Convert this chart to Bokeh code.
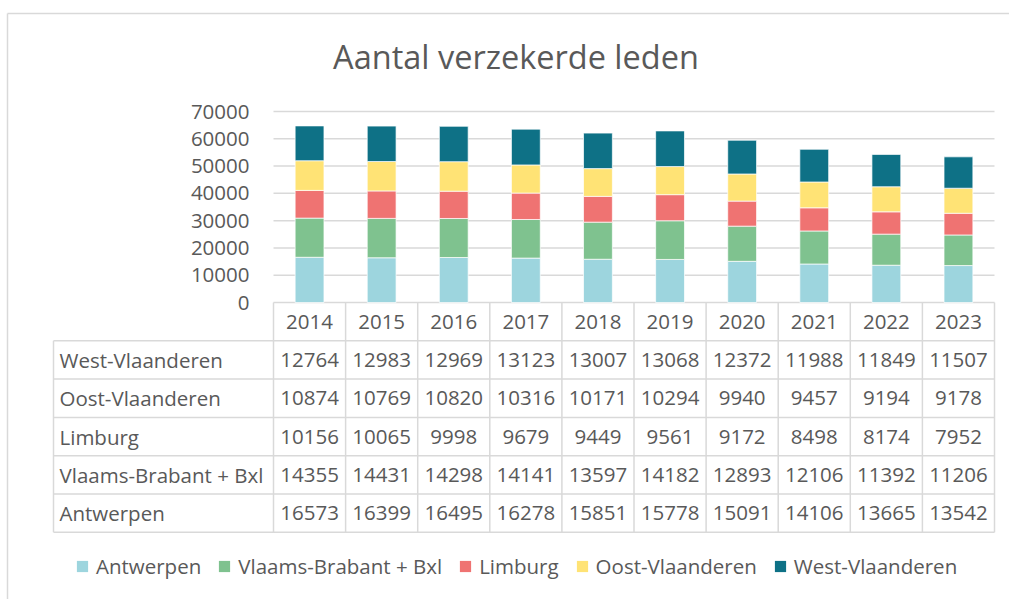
from bokeh.plotting import figure
from bokeh.models import Range1d, ColumnDataSource, Legend, LegendItem
from bokeh.embed import file_html
from bokeh.resources import INLINE
from bokeh.core.properties import value

# ---------------- data ----------------
years = ["2014", "2015", "2016", "2017", "2018", "2019", "2020", "2021", "2022", "2023"]
series = ["Antwerpen", "Vlaams-Brabant + Bxl", "Limburg", "Oost-Vlaanderen", "West-Vlaanderen"]
antwerpen = [16573, 16399, 16495, 16278, 15851, 15778, 15091, 14106, 13665, 13542]
vlaams_brabant_bxl = [14355, 14431, 14298, 14141, 13597, 14182, 12893, 12106, 11392, 11206]
limburg = [10156, 10065, 9998, 9679, 9449, 9561, 9172, 8498, 8174, 7952]
oost_vlaanderen = [10874, 10769, 10820, 10316, 10171, 10294, 9940, 9457, 9194, 9178]
west_vlaanderen = [12764, 12983, 12969, 13123, 13007, 13068, 12372, 11988, 11849, 11507]
y_ticks = [0, 10000, 20000, 30000, 40000, 50000, 60000, 70000]
title_text = "Aantal verzekerde leden"

# ---------------- style / layout ----------------
colors = ["#9dd5de", "#7fc28f", "#ef7372", "#ffe375", "#0e7186"]
FONT = "Open Sans"
TXT = "#595959"
GRID = "#d9d9d9"
FS = "20.5px"

W, H = 1009, 599
PX0 = 273            # pixel x of the left edge of the plot area
PY0 = 302            # pixel y of the value 0
COL = 72.1           # pixels per category
K = 70000 / 191      # value units per pixel (vertical)
ROW = 38.3 * K       # table row height in value units

xr = Range1d(-PX0 / COL, (W - PX0) / COL)
yr = Range1d(-(H - PY0) * K, PY0 * K)

p = figure(width=W, height=H, x_range=xr, y_range=yr, title=None,
           output_backend="svg", toolbar_location=None,
           x_axis_location=None, y_axis_location=None,
           min_border_left=0, min_border_right=0, min_border_top=0, min_border_bottom=0)
p.grid.visible = False
p.outline_line_color = None
p.background_fill_color = "white"

ncols = len(years)
nrows = len(series)
xc = [i + 0.5 for i in range(ncols)]

# chart border (top and left)
bx = xr.start + 7 / COL
by = yr.end - 13 * K
p.segment(x0=[bx, bx], y0=[by, yr.start], x1=[xr.end, bx], y1=[by, by],
          line_color=GRID, line_width=1.5)

# title
p.text(x=[xr.start + 515.5 / COL], y=[yr.end - 55.7 * K], text=[title_text],
       text_font=value(FONT), text_font_size=value("32.5px"), text_color=TXT,
       text_align="center", text_baseline="middle")

# gridlines and y tick labels
p.segment(x0=[0] * len(y_ticks), y0=y_ticks, x1=[ncols] * len(y_ticks), y1=y_ticks,
          line_color=GRID, line_width=1.5)
p.text(x=[0] * len(y_ticks), y=y_ticks, text=[str(t) for t in y_ticks], x_offset=-24,
       text_font=value(FONT), text_font_size=value(FS), text_color=TXT,
       text_align="right", text_baseline="middle")

# stacked bars
keys = ["s0", "s1", "s2", "s3", "s4"]
values = [antwerpen, vlaams_brabant_bxl, limburg, oost_vlaanderen, west_vlaanderen]
data = {"xc": xc}
for k, v in zip(keys, values):
    data[k] = v
src = ColumnDataSource(data)
p.vbar_stack(keys, x="xc", width=0.4, color=colors, source=src,
             line_color="white", line_width=1, line_alpha=0.7)

# ---------------- data table ----------------
label_left = -220 / COL
hx0, hx1, hy = [], [], []
for j in range(1, nrows + 2):
    hx0.append(label_left)
    hx1.append(ncols)
    hy.append(-j * ROW)
p.segment(x0=hx0, y0=hy, x1=hx1, y1=hy, line_color=GRID, line_width=1.5)
vx, vy0, vy1 = [label_left], [-ROW], [-(nrows + 1) * ROW]
for c in range(ncols + 1):
    vx.append(c)
    vy0.append(0)
    vy1.append(-(nrows + 1) * ROW)
p.segment(x0=vx, y0=vy0, x1=vx, y1=vy1, line_color=GRID, line_width=1.5)

# header years
p.text(x=xc, y=[-0.5 * ROW] * ncols, text=years,
       text_font=value(FONT), text_font_size=value(FS), text_color=TXT,
       text_align="center", text_baseline="middle")

tx, ty, tt = [], [], []
lx, ly, lt = [], [], []
for si, (name, vals) in enumerate(zip(series, values)):
    j = nrows - si            # West-Vlaanderen on top
    row_y = -(j + 0.5) * ROW
    lx.append(label_left)
    ly.append(row_y)
    lt.append(name)
    for i, v in enumerate(vals):
        tx.append(xc[i])
        ty.append(row_y)
        tt.append(str(v))
p.text(x=tx, y=ty, text=tt, text_font=value(FONT), text_font_size=value(FS),
       text_color=TXT, text_align="center", text_baseline="middle")
p.text(x=lx, y=ly, text=lt, text_font=value(FONT), text_font_size=value(FS),
       text_color=TXT, text_align="left", text_baseline="middle", x_offset=6)

# ---------------- legend ----------------
items = []
for name, c in zip(series, colors):
    r = p.rect(x=[0], y=[0], width=0, height=0, fill_color=c, line_color=None)
    items.append(LegendItem(label=name, renderers=[r]))
leg = Legend(items=items, orientation="horizontal", location=(75, 19),
             padding=0, margin=0, spacing=16, label_standoff=7,
             glyph_width=14, glyph_height=14, label_height=20,
             label_text_font=FONT, label_text_font_size=FS, label_text_color=TXT,
             border_line_color=None, background_fill_alpha=0)
p.add_layout(leg)

open("out.html", "w").write(file_html(p, INLINE))
